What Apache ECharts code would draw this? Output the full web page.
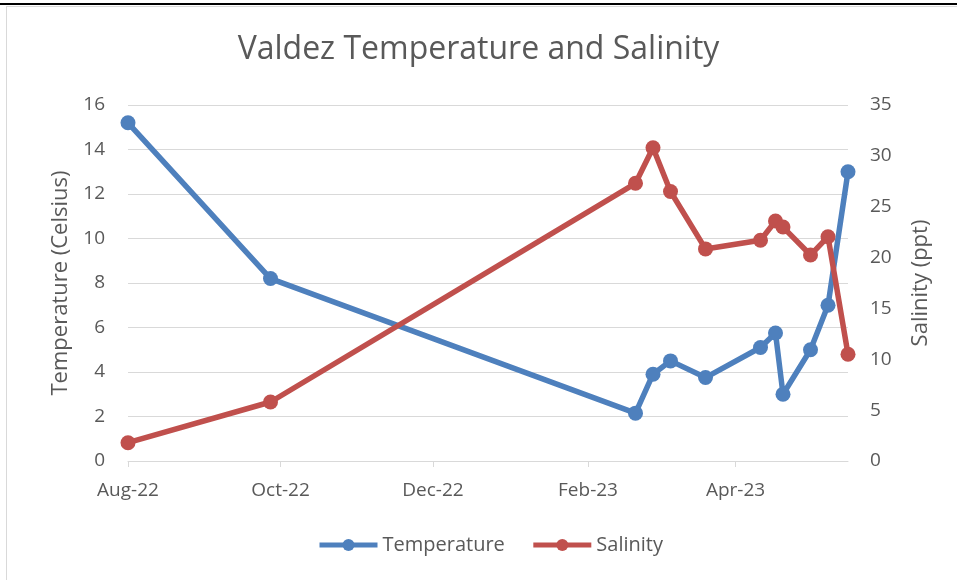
<!DOCTYPE html>
<html>
<head>
<meta charset="utf-8">
<title>Valdez Temperature and Salinity</title>
<script src="https://cdn.jsdelivr.net/npm/echarts@6/dist/echarts.min.js"></script>
<style>
  html, body { margin: 0; padding: 0; background: #fff; }
  .topbar { position: absolute; left: 0; top: 3px; width: 957px; height: 2px; background: #000; }
  .frame { position: absolute; left: 6px; top: 6px; width: 960px; height: 580px; border-left: 1px solid #d9d9d9; border-top: 1px solid #d9d9d9; }
  #chart { position: absolute; left: 0; top: 0; width: 957px; height: 580px; }
</style>
</head>
<body>
<div class="topbar"></div>
<div class="frame"></div>
<div id="chart"></div>
<script>
// sample dates and readings
const dates = [
  '2022-08-01', '2022-09-27', '2023-02-20', '2023-02-27', '2023-03-06', '2023-03-20',
  '2023-04-11', '2023-04-17', '2023-04-20', '2023-05-01', '2023-05-08', '2023-05-16'
];
const temperature = [15.2, 8.2, 2.15, 3.9, 4.5, 3.75, 5.1, 5.75, 3.0, 5.0, 7.0, 13.0];
const salinity = [1.8, 5.8, 27.3, 30.8, 26.5, 20.85, 21.7, 23.6, 23.0, 20.25, 22.05, 10.5];

// x axis tick labels (every 2 months)
const tickDates = ['2022-08-01', '2022-10-01', '2022-12-01', '2023-02-01', '2023-04-01'];
const monthNames = ['Jan', 'Feb', 'Mar', 'Apr', 'May', 'Jun', 'Jul', 'Aug', 'Sep', 'Oct', 'Nov', 'Dec'];

const toTime = s => new Date(s + 'T00:00:00').getTime();
const tickValues = tickDates.map(toTime);

const fontFamily = '"Open Sans", sans-serif';
const textColor = '#595959';

const chart = echarts.init(document.getElementById('chart'));

const option = {
  animation: false,
  color: ['#4E80BD', '#C0504D'],
  title: {
    text: 'Valdez Temperature and Salinity',
    left: 'center',
    top: 29,
    textStyle: { fontFamily, fontSize: 32, fontWeight: 'normal', color: textColor }
  },
  legend: {
    bottom: 20,
    left: 312,
    itemWidth: 58,
    itemHeight: 15,
    itemGap: 26,
    lineStyle: { width: 5 },
    textStyle: { fontFamily, fontSize: 20, color: textColor },
    data: ['Temperature', 'Salinity']
  },
  grid: {
    left: 128,
    right: 109,
    top: 105,
    bottom: 119
  },
  xAxis: {
    type: 'value',
    min: toTime(dates[0]),
    max: toTime(dates[dates.length - 1]),
    axisLine: { show: true, onZero: false, lineStyle: { color: '#d9d9d9', width: 1 } },
    axisTick: {
      show: true,
      customValues: tickValues,
      length: 6,
      lineStyle: { color: '#d9d9d9' }
    },
    splitLine: { show: false },
    axisLabel: {
      customValues: tickValues,
      margin: 20,
      fontFamily,
      fontSize: 19,
      color: textColor,
      formatter: value => {
        const d = new Date(value);
        return monthNames[d.getMonth()] + '-' + String(d.getFullYear()).slice(2);
      }
    }
  },
  yAxis: [
    {
      type: 'value',
      min: 0,
      max: 16,
      interval: 2,
      name: 'Temperature (Celsius)',
      nameLocation: 'middle',
      nameGap: 56,
      nameTextStyle: { fontFamily, fontSize: 22, color: textColor },
      axisLine: { show: false },
      axisTick: { show: false },
      axisLabel: { margin: 23, fontFamily, fontSize: 19, color: textColor },
      splitLine: { lineStyle: { color: '#d9d9d9', width: 1 } }
    },
    {
      type: 'value',
      min: 0,
      max: 35,
      interval: 5,
      name: 'Salinity (ppt)',
      nameLocation: 'middle',
      nameGap: 62,
      nameTextStyle: { fontFamily, fontSize: 22, color: textColor },
      axisLine: { show: false },
      axisTick: { show: false },
      axisLabel: { margin: 22, fontFamily, fontSize: 19, color: textColor },
      splitLine: { show: false }
    }
  ],
  series: [
    {
      name: 'Temperature',
      type: 'line',
      yAxisIndex: 0,
      symbol: 'circle',
      symbolSize: 15,
      lineStyle: { width: 5.5 },
      data: dates.map((d, i) => [toTime(d), temperature[i]])
    },
    {
      name: 'Salinity',
      type: 'line',
      yAxisIndex: 1,
      symbol: 'circle',
      symbolSize: 15,
      lineStyle: { width: 5.5 },
      data: dates.map((d, i) => [toTime(d), salinity[i]])
    }
  ]
};

chart.setOption(option);
</script>
</body>
</html>
